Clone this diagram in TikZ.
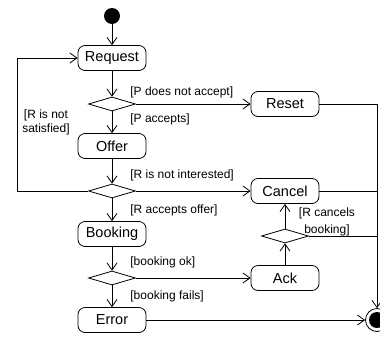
\documentclass[tikz,border=0pt]{standalone}
\usepackage{fontspec}
\setmainfont{Liberation Sans}
\usetikzlibrary{arrows.meta,shapes.geometric}

\begin{document}
\begin{tikzpicture}[x=1pt,y=-1pt,font=\fontsize{12}{14}\selectfont,line width=0.8pt,
  act/.style={draw,rounded corners=7pt,minimum width=68pt,minimum height=25pt,inner sep=0pt,font=\fontsize{14.5}{16}\selectfont},
  dec/.style={draw,diamond,aspect=3.4,minimum width=47pt,minimum height=14pt,inner sep=0pt},
  guard/.style={inner sep=0pt,anchor=west},
  >={Straight Barb[length=7pt,width=10pt]}]
\useasboundingbox (0,0) rectangle (380,338);
\node[circle,fill,minimum size=16pt,inner sep=0pt] (start) at (112,16) {};
\node[act] (req) at (112,58) {Request};
\node[dec] (d1) at (112,104) {};
\node[act] (offer) at (112,146) {Offer};
\node[dec] (d2) at (112,191) {};
\node[act] (book) at (112,234) {Booking};
\node[dec] (d3) at (112,278) {};
\node[act] (err) at (112,320) {Error};
\node[act] (reset) at (285,104) {Reset};
\node[act] (cancel) at (285,191) {Cancel};
\node[dec] (d4) at (285,236) {};
\node[act] (ack) at (285,278) {Ack};
\node[circle,draw,minimum size=23pt,inner sep=0pt,path picture={\fill (path picture bounding box.center) circle (8pt);}] (stop) at (377,320) {};
\coordinate (loop) at (17,191);
% guards
\node[guard] (g1) at (130,92) {[P does not accept]};
\node[guard] (g2) at (130,119) {[P accepts]};
\node[guard] (g3) at (130,175) {[R is not interested]};
\node[guard] (g4) at (130,210) {[R accepts offer]};
\node[guard] (g5) at (130,262) {[booking ok]};
\node[guard] (g6) at (130,296) {[booking fails]};
\node[align=center,inner sep=0pt] (g7) at (46,122) {[R is not\\satisfied]};
\node[align=center,inner sep=0pt,font=\fontsize{12}{17}\selectfont] (g8) at (327,222) {[R cancels\\booking]};
% flow
\draw[->] (start) -- (req);
\draw[->] (req) -- (d1);
\draw[->] (d1) -- (offer);
\draw[->] (offer) -- (d2);
\draw[->] (d2) -- (book);
\draw[->] (book) -- (d3);
\draw[->] (d3) -- (err);
\draw[->] (d1) -- (reset);
\draw[->] (d2) -- (cancel);
\draw[->] (d3) -- (ack);
\draw[->] (ack) -- (d4);
\draw[->] (d4) -- (cancel);
\draw[->] (d2.west) -- (loop) |- (req);
\draw[->] (reset) -| (stop);
\draw (cancel) -- (cancel -| stop);
\draw (d4) -- (d4 -| stop);
\draw[->] (err) -- (stop);
\end{tikzpicture}
\end{document}
